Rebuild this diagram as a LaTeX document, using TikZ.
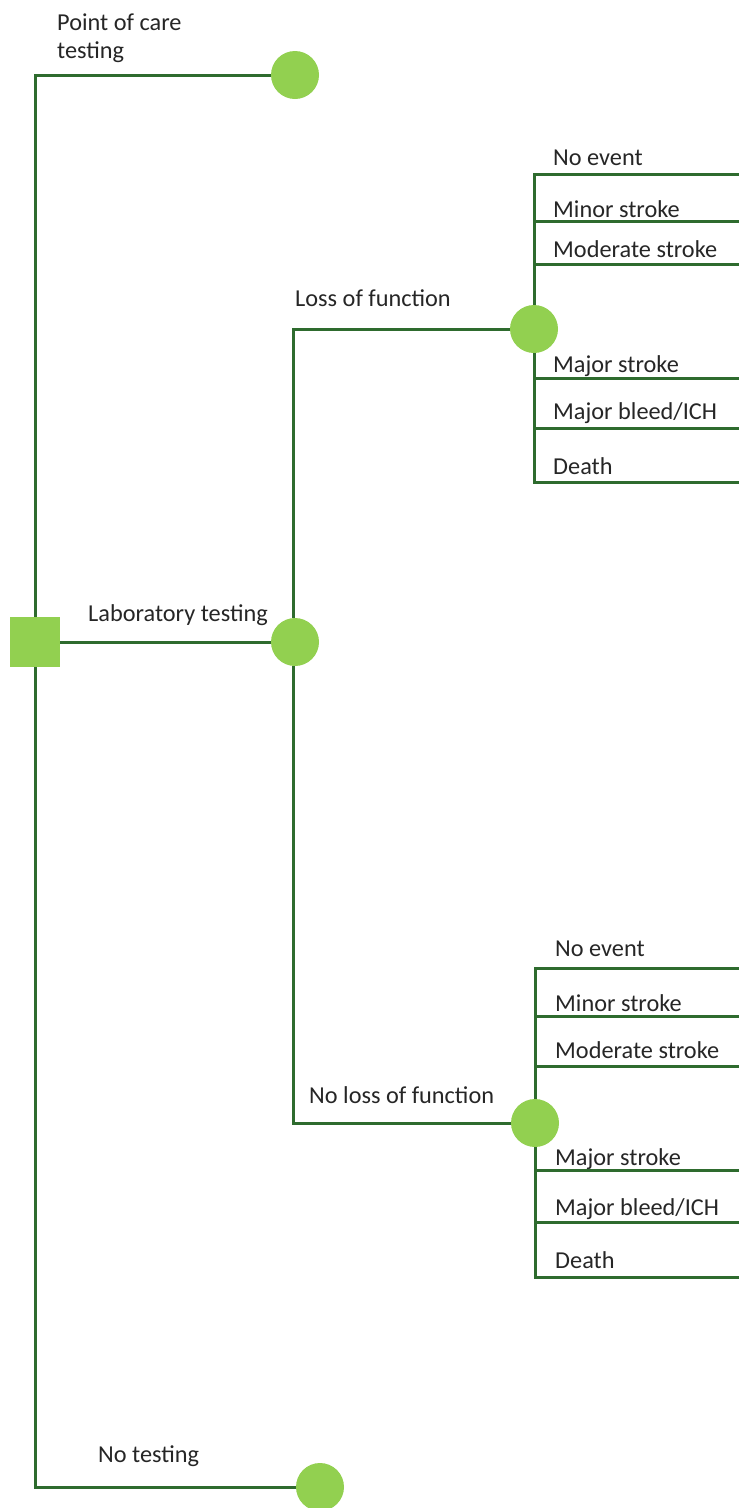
\documentclass[tikz,border=0pt]{standalone}
\usepackage{fontspec}
\setmainfont{Carlito}
\definecolor{edge}{HTML}{2E6B2E}
\definecolor{nodefill}{HTML}{92D050}
\definecolor{txt}{HTML}{262626}
\begin{document}
\begin{tikzpicture}[x=1pt,y=-1pt,
  conn/.style={draw=edge,line width=3pt},
  chance/.style={circle,fill=nodefill,minimum size=48pt,inner sep=0pt},
  decision/.style={rectangle,fill=nodefill,minimum size=50pt,inner sep=0pt},
  lbl/.style={anchor=base west,inner sep=0pt,text=txt,font=\fontsize{24.3}{28}\selectfont,align=left}]
\useasboundingbox (0,0) rectangle (739,1508);
% nodes
\node[decision] (root) at (35,642) {};
\node[chance] (poc) at (295,75) {};
\node[chance] (lab) at (295,642) {};
\node[chance] (nt) at (320,1487) {};
\node[chance] (lof) at (534,329) {};
\node[chance] (nlof) at (535,1123) {};
% free ends
\coordinate (a1) at (739,174);
\coordinate (a2) at (739,221);
\coordinate (a3) at (739,264);
\coordinate (a4) at (739,378);
\coordinate (a5) at (739,428);
\coordinate (a6) at (739,482);
\coordinate (b1) at (739,968);
\coordinate (b2) at (739,1016);
\coordinate (b3) at (739,1066);
\coordinate (b4) at (739,1170);
\coordinate (b5) at (739,1222);
\coordinate (b6) at (739,1277);
% connectors
\draw[conn] (root.north) |- (poc);
\draw[conn] (root.south) |- (nt);
\draw[conn] (root) -- (lab);
\draw[conn] ([xshift=-2pt]lab.north) |- (lof);
\draw[conn] ([xshift=-2pt]lab.south) |- (nlof);
\foreach \e in {a1,a2,a3} \draw[conn] (lof.north) |- (\e);
\foreach \e in {a4,a5,a6} \draw[conn] (lof.south) |- (\e);
\foreach \e in {b1,b2,b3} \draw[conn] (nlof.north) |- (\e);
\foreach \e in {b4,b5,b6} \draw[conn] (nlof.south) |- (\e);
% labels
\node[lbl] (tpoc) at (57,58) {Point of care\\testing};
\node[lbl] (tlab) at (88,621) {Laboratory testing};
\node[lbl] (tnt) at (98,1462) {No testing};
\node[lbl] (tlof) at (295,306) {Loss of function};
\node[lbl] (tnlof) at (309,1103) {No loss of function};
\node[lbl] (ta1) at (553,165) {No event};
\node[lbl] (ta2) at (553,217) {Minor stroke};
\node[lbl] (ta3) at (553,257) {Moderate stroke};
\node[lbl] (ta4) at (553,372) {Major stroke};
\node[lbl] (ta5) at (553,419) {Major bleed/ICH};
\node[lbl] (ta6) at (553,474) {Death};
\node[lbl] (tb1) at (555,956) {No event};
\node[lbl] (tb2) at (555,1011) {Minor stroke};
\node[lbl] (tb3) at (555,1058) {Moderate stroke};
\node[lbl] (tb4) at (555,1165) {Major stroke};
\node[lbl] (tb5) at (555,1215) {Major bleed/ICH};
\node[lbl] (tb6) at (555,1268) {Death};
\end{tikzpicture}
\end{document}
